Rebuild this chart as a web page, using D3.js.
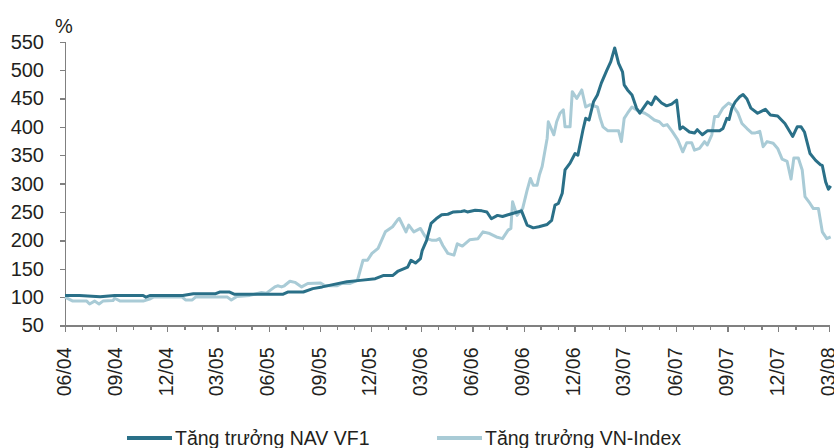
<!DOCTYPE html>
<html>
<head>
<meta charset="utf-8">
<script src="https://cdn.jsdelivr.net/npm/d3@7"></script>
<style>
	body { margin: 0; background: #fff; }
	svg { display: block; }
	text { font-family: Arial, "Liberation Sans", sans-serif; fill: #231f20; }
	.axis path, .axis line { stroke: #808080; stroke-width: 1.3px; shape-rendering: crispEdges; }
	.lineNav { fill: none; stroke: #2a7088; stroke-width: 3px; stroke-linejoin: round; }
	.lineVn { fill: none; stroke: #a9cbd6; stroke-width: 3px; stroke-linejoin: round; }
</style>
</head>
<body>
<div class="chart"></div>
<script>
// Tăng trưởng NAV VF1
var navDates = ["2004-06-01", "2004-06-27", "2004-08-03", "2004-08-29", "2004-10-19", "2004-10-24", "2004-11-01",
	"2004-12-29", "2005-01-17", "2005-02-26", "2005-03-05", "2005-03-23", "2005-04-01", "2005-04-28", "2005-06-26",
	"2005-07-05", "2005-08-02", "2005-08-19", "2005-09-05", "2005-09-24", "2005-10-19", "2005-11-12", "2005-12-09",
	"2005-12-23", "2006-01-09", "2006-01-19", "2006-02-05", "2006-02-11", "2006-02-19", "2006-02-28", "2006-03-03",
	"2006-03-11", "2006-03-19", "2006-03-28", "2006-04-07", "2006-04-18", "2006-04-28", "2006-05-12", "2006-05-18",
	"2006-05-23", "2006-06-06", "2006-06-18", "2006-06-27", "2006-07-05", "2006-07-16", "2006-07-25", "2006-08-07",
	"2006-08-21", "2006-08-28", "2006-09-07", "2006-09-18", "2006-09-28", "2006-10-13", "2006-10-21", "2006-10-27",
	"2006-11-02", "2006-11-09", "2006-11-14", "2006-11-23", "2006-12-02", "2006-12-07", "2006-12-16", "2006-12-21",
	"2006-12-27", "2007-01-04", "2007-01-11", "2007-01-18", "2007-01-28", "2007-02-04", "2007-02-11", "2007-02-18",
	"2007-02-25", "2007-02-28", "2007-03-06", "2007-03-14", "2007-03-22", "2007-03-28", "2007-04-11", "2007-04-18",
	"2007-04-25", "2007-05-06", "2007-05-15", "2007-05-24", "2007-06-02", "2007-06-08", "2007-06-13", "2007-06-25",
	"2007-07-04", "2007-07-09", "2007-07-18", "2007-07-27", "2007-08-18", "2007-08-24", "2007-08-31", "2007-09-04",
	"2007-09-09", "2007-09-15", "2007-09-23", "2007-09-29", "2007-10-06", "2007-10-13", "2007-10-25", "2007-11-08",
	"2007-11-17", "2007-11-30", "2007-12-13", "2007-12-27", "2008-01-04", "2008-01-11", "2008-01-17", "2008-01-27",
	"2008-02-06", "2008-02-15", "2008-02-18", "2008-02-24", "2008-02-29", "2008-03-04"];
var navValues = [103, 103, 100.5, 103, 103, 100, 103,
	103, 106, 106, 109, 109, 105, 105, 105,
	109, 109, 115, 118, 122, 127, 129.5, 132.5,
	138, 138, 146, 153, 165, 160, 168, 182,
	200, 230, 238, 245, 246, 250, 251, 252,
	250, 253, 252, 250, 238, 244, 242, 246,
	250, 252, 227, 222, 224, 228, 235, 262,
	265, 283, 324, 336, 353, 350, 394, 415,
	412, 444, 456, 477, 500, 515, 539, 512,
	497, 474, 465, 456, 433, 424, 444, 439,
	453, 442, 437, 440, 447, 396, 400, 391,
	389, 395, 386, 393, 393, 397, 415, 413,
	433, 444, 453, 457, 449, 433, 424, 431,
	421, 419, 406, 383, 400, 400, 391, 353,
	341, 333, 332, 303, 290, 296];

// Tăng trưởng VN-Index
var vnDates = ["2004-06-01", "2004-06-15", "2004-07-10", "2004-07-15", "2004-07-24", "2004-08-01", "2004-08-08",
	"2004-08-26", "2004-08-29", "2004-09-08", "2004-10-19", "2004-11-01", "2004-11-06", "2004-12-28", "2005-01-03",
	"2005-01-15", "2005-01-21", "2005-03-19", "2005-03-26", "2005-04-05", "2005-04-28", "2005-05-19", "2005-05-28",
	"2005-06-12", "2005-06-17", "2005-06-24", "2005-06-29", "2005-07-09", "2005-07-18", "2005-07-30", "2005-08-10",
	"2005-09-02", "2005-09-10", "2005-10-02", "2005-10-10", "2005-10-24", "2005-11-07", "2005-11-17", "2005-11-25",
	"2005-12-03", "2005-12-14", "2005-12-27", "2006-01-09", "2006-01-18", "2006-01-21", "2006-02-02", "2006-02-07",
	"2006-02-16", "2006-02-28", "2006-03-07", "2006-03-12", "2006-03-21", "2006-03-28", "2006-04-03", "2006-04-09",
	"2006-04-18", "2006-04-29", "2006-05-05", "2006-05-14", "2006-05-27", "2006-06-11", "2006-06-20", "2006-07-02",
	"2006-07-14", "2006-07-25", "2006-08-04", "2006-08-09", "2006-08-12", "2006-08-20", "2006-08-30", "2006-09-07",
	"2006-09-13", "2006-09-18", "2006-09-25", "2006-09-29", "2006-10-04", "2006-10-13", "2006-10-15", "2006-10-21",
	"2006-10-25", "2006-10-30", "2006-11-05", "2006-11-11", "2006-11-14", "2006-11-23", "2006-11-27", "2006-12-05",
	"2006-12-14", "2006-12-21", "2006-12-29", "2007-01-11", "2007-01-16", "2007-01-21", "2007-01-30", "2007-02-18",
	"2007-02-23", "2007-02-28", "2007-03-06", "2007-03-14", "2007-03-23", "2007-04-06", "2007-04-14", "2007-04-23",
	"2007-05-02", "2007-05-09", "2007-05-16", "2007-05-25", "2007-06-04", "2007-06-13", "2007-06-20", "2007-06-29",
	"2007-07-04", "2007-07-13", "2007-07-22", "2007-07-27", "2007-08-04", "2007-08-09", "2007-08-15", "2007-08-24",
	"2007-09-03", "2007-09-11", "2007-09-20", "2007-09-27", "2007-10-06", "2007-10-15", "2007-10-20", "2007-10-29",
	"2007-11-04", "2007-11-11", "2007-11-22", "2007-11-30", "2007-12-08", "2007-12-17", "2007-12-24", "2007-12-29",
	"2008-01-06", "2008-01-13", "2008-01-18", "2008-01-27", "2008-02-02", "2008-02-11", "2008-02-18", "2008-02-26",
	"2008-03-04"];
var vnValues = [100, 93, 93, 88, 93, 88, 93,
	94, 98, 93, 93, 97, 100, 100, 95,
	95, 100, 100, 95, 101, 103, 108, 107,
	118, 120, 118, 120, 128, 126, 118, 124,
	125, 120, 120, 124, 124, 129.5, 165, 165,
	177, 186, 215, 224, 236, 239, 215, 227,
	215, 221, 209, 203, 200, 200, 203, 191,
	177, 174, 194, 190, 201, 203, 215, 212,
	206, 203, 218, 221, 268, 244, 256, 288,
	309, 297, 297, 315, 330, 380, 409, 395,
	386, 409, 424, 430, 400, 400, 462, 450,
	465, 435, 439, 435, 415, 400, 393, 393,
	374, 415, 424, 435, 429, 424, 419, 412,
	409, 402, 404, 392, 377, 356, 372, 372,
	359, 362, 374, 368, 386, 418, 418, 433,
	442, 437, 424, 406, 397, 389, 389, 392,
	365, 374, 371, 362, 343, 339, 308, 345,
	345, 324, 277, 265, 256, 256, 215, 203,
	206];

var yTicks = [50, 100, 150, 200, 250, 300, 350, 400, 450, 500, 550];
var seriesNames = ["Tăng trưởng NAV VF1", "Tăng trưởng VN-Index"];

var w = 834;
var h = 448;
var padLeft = 65, padRight = 829, padTop = 41.7, padBottom = 325.5;

var parseDate = d3.timeParse("%Y-%m-%d");

var navData = navDates.map(function (d, i) { return { date: parseDate(d), value: navValues[i] }; });
var vnData = vnDates.map(function (d, i) { return { date: parseDate(d), value: vnValues[i] }; });

var xScale = d3.scaleTime()
	.domain([new Date(2004, 5, 1), new Date(2008, 2, 1)])
	.range([padLeft, padRight]);

var yScale = d3.scaleLinear()
	.domain([50, 550])
	.range([padBottom, padTop]);

var svg = d3.select(".chart")
	.append("svg")
	.attr("width", w)
	.attr("height", h);

// monthly ticks, quarter ones longer and labelled
var months = d3.timeMonth.range(new Date(2004, 5, 1), new Date(2008, 2, 2));
var quarters = months.filter(function (d) { return (d.getMonth() - 5 + 12) % 3 == 0; });

var xAxisMinor = d3.axisBottom(xScale)
	.tickValues(months)
	.tickSize(4)
	.tickSizeOuter(0)
	.tickFormat("");

var xAxisMajor = d3.axisBottom(xScale)
	.tickValues(quarters)
	.tickSize(6.5)
	.tickSizeOuter(0)
	.tickFormat(d3.timeFormat("%m/%y"));

svg.append("g")
	.attr("class", "axis")
	.attr("transform", "translate(0," + padBottom + ")")
	.call(xAxisMinor);

var xGroup = svg.append("g")
	.attr("class", "axis")
	.attr("transform", "translate(0," + padBottom + ")")
	.call(xAxisMajor);
xGroup.select(".domain").remove();

xGroup.selectAll("text")
	.attr("font-size", "19.5px")
	.attr("fill", "#231f20")
	.attr("transform", "rotate(-90)")
	.attr("text-anchor", "end")
	.attr("x", -22)
	.attr("y", -2)
	.attr("dy", "0.36em");

var yAxis = d3.axisLeft(yScale)
	.tickValues(yTicks)
	.tickSize(5)
	.tickSizeOuter(0)
	.tickPadding(16);

var yGroup = svg.append("g")
	.attr("class", "axis")
	.attr("transform", "translate(" + padLeft + ",0)")
	.call(yAxis);

yGroup.selectAll("text")
	.attr("font-size", "20px")
	.attr("fill", "#231f20");

svg.append("text")
	.attr("x", 64)
	.attr("y", 33)
	.attr("text-anchor", "middle")
	.attr("font-size", "20px")
	.text("%");

var line = d3.line()
	.x(function (d) { return xScale(d.date); })
	.y(function (d) { return yScale(d.value); });

svg.append("path")
	.datum(vnData)
	.attr("class", "lineVn")
	.attr("d", line);

svg.append("path")
	.datum(navData)
	.attr("class", "lineNav")
	.attr("d", line);

// legend
var legendX = [127, 437];
var legendClass = ["lineNav", "lineVn"];
var legend = svg.selectAll(".legend")
	.data(seriesNames)
	.enter()
	.append("g")
	.attr("class", "legend")
	.attr("transform", function (d, i) { return "translate(" + legendX[i] + ",438)"; });

legend.append("line")
	.attr("class", function (d, i) { return legendClass[i]; })
	.attr("x1", 0)
	.attr("x2", 45)
	.attr("y1", 0)
	.attr("y2", 0)
	.style("stroke-width", "4px");

legend.append("text")
	.attr("x", 48)
	.attr("y", 6.5)
	.attr("font-size", "19.5px")
	.text(function (d) { return d; });
</script>
</body>
</html>
